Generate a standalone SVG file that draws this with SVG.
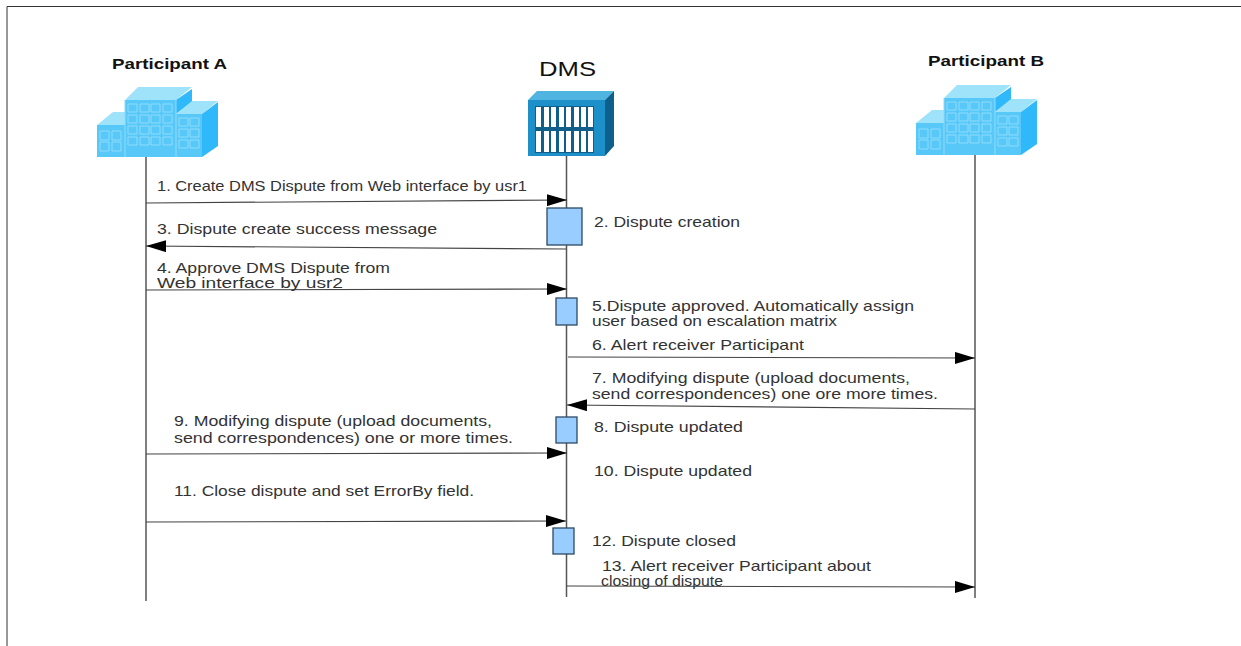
<svg xmlns="http://www.w3.org/2000/svg" width="1241" height="646" viewBox="0 0 1241 646">
<style>
text{font-family:"Liberation Sans",Arial,sans-serif;font-size:14.5px;fill:#333}
.h{font-weight:bold;font-size:15.5px;fill:#111}
.life{stroke:#555;stroke-width:1.5;fill:none}
.msg{stroke:#444;stroke-width:1.2;fill:none;marker-end:url(#ah)}
.act{fill:#99ccff;stroke:#2c4a66;stroke-width:1.3}
.win{fill:none;stroke:#8fdcfb;stroke-width:1}
</style>
<defs>
<marker id="ah" viewBox="0 0 20 12" refX="20" refY="6" markerWidth="20" markerHeight="12" markerUnits="userSpaceOnUse" orient="auto"><path d="M0 0L20 6L0 12Z" fill="#000"/></marker>
<g id="bld">
<path d="M97 125L113 112H125V125Z" fill="#9fe3fb"/>
<rect x="97" y="125" width="28" height="32" fill="#58c8f8"/>
<path d="M125 100L138 87H192L176 100Z" fill="#9fe3fb"/>
<path d="M176 100L192 89V102L176 114Z" fill="#2fb8fa"/>
<rect x="125" y="100" width="51" height="57" fill="#58c8f8"/>
<path d="M176 114L192 101H218L202 114Z" fill="#9fe3fb"/>
<rect x="176" y="114" width="26" height="43" fill="#58c8f8"/>
<path d="M202 114L218 102V146L202 157Z" fill="#2fb8fa"/>
<path d="M125 100V157M176 100V157" stroke="#8fdcfb" stroke-width="1"/>
<path class="win" d="M100 131h9v9h-9zM112 131h9v9h-9zM100 142h9v9h-9zM112 142h9v9h-9zM128 104h9v8h-9zM140 104h9v8h-9zM151 104h9v8h-9zM163 104h9v8h-9zM128 115h9v8h-9zM140 115h9v8h-9zM151 115h9v8h-9zM163 115h9v8h-9zM128 126h9v8h-9zM140 126h9v8h-9zM151 126h9v8h-9zM163 126h9v8h-9zM128 137h9v8h-9zM140 137h9v8h-9zM151 137h9v8h-9zM163 137h9v8h-9zM179 118h9v8h-9zM190 118h9v8h-9zM179 129h9v8h-9zM190 129h9v8h-9zM179 140h9v8h-9zM190 140h9v8h-9z"/>
</g>
</defs>
<rect width="1241" height="646" fill="#fff"/>
<path d="M7 646V6.500H1241" fill="none" stroke="#333" stroke-width="1"/>
<g id="connectors">
<path class="life" d="M146 157V601"/>
<path class="life" d="M566.500 155V597"/>
<path class="life" d="M975 155V598"/>
<path class="msg" d="M146 203L567 200"/>
<path class="msg" d="M566 249L146 246"/>
<path class="msg" d="M146 290L567 289"/>
<path class="msg" d="M568 357L975 358"/>
<path class="msg" d="M975 409L567 405"/>
<path class="msg" d="M146 454L567 453"/>
<path class="msg" d="M146 522L566 521"/>
<path class="msg" d="M566 586L975 587"/>
</g>
<g id="participant-a"><text class="h" x="112" y="69" textLength="115" lengthAdjust="spacingAndGlyphs">Participant A</text><use href="#bld"/></g>
<g id="dms"><text x="539" y="76" style="font-size:21px;fill:#111" textLength="57" lengthAdjust="spacingAndGlyphs">DMS</text>
<path d="M528 100L537 91H614L605 100Z" fill="#4fb4e0"/>
<path d="M605 100L614 91V146L605 156Z" fill="#0d5f8c"/>
<rect x="528" y="100" width="77" height="56" fill="#1d8fc9"/>
<rect x="535" y="106" width="59" height="47" fill="#0f5f8a"/>
<path d="M536 107h5v20h-5zM544 107h5v20h-5zM551 107h5v20h-5zM559 107h5v20h-5zM566 107h5v20h-5zM574 107h5v20h-5zM581 107h5v20h-5zM588 107h5v20h-5zM536 131h5v21h-5zM544 131h5v21h-5zM551 131h5v21h-5zM559 131h5v21h-5zM566 131h5v21h-5zM574 131h5v21h-5zM581 131h5v21h-5zM588 131h5v21h-5z" fill="#fff"/></g>
<g id="participant-b"><text class="h" x="928" y="66" textLength="116" lengthAdjust="spacingAndGlyphs">Participant B</text><use href="#bld" transform="translate(819 -2)"/></g>
<g id="activation-2"><rect class="act" x="547" y="208" width="35" height="37"/></g>
<g id="activation-5"><rect class="act" x="556" y="298" width="21" height="27"/></g>
<g id="activation-8"><rect class="act" x="556" y="417" width="21" height="26"/></g>
<g id="activation-12"><rect class="act" x="553" y="528" width="21" height="26"/></g>
<g id="labels" transform="translate(0 1)">
<text x="157" y="190" textLength="370" lengthAdjust="spacingAndGlyphs">1. Create DMS Dispute from Web interface by usr1</text>
<text x="594" y="226" textLength="146" lengthAdjust="spacingAndGlyphs">2. Dispute creation</text>
<text x="157" y="233" textLength="280" lengthAdjust="spacingAndGlyphs">3. Dispute create success message</text>
<text x="157" y="272" textLength="233" lengthAdjust="spacingAndGlyphs">4. Approve DMS Dispute from</text>
<text x="157" y="287" textLength="186" lengthAdjust="spacingAndGlyphs">Web interface by usr2</text>
<text x="592" y="310" textLength="322" lengthAdjust="spacingAndGlyphs">5.Dispute approved. Automatically assign</text>
<text x="592" y="325" textLength="245" lengthAdjust="spacingAndGlyphs">user based on escalation matrix</text>
<text x="592" y="349" textLength="212" lengthAdjust="spacingAndGlyphs">6. Alert receiver Participant</text>
<text x="592" y="382" textLength="318" lengthAdjust="spacingAndGlyphs">7. Modifying dispute (upload documents,</text>
<text x="592" y="398" textLength="346" lengthAdjust="spacingAndGlyphs">send correspondences) one ore more times.</text>
<text x="174" y="425" textLength="318" lengthAdjust="spacingAndGlyphs">9. Modifying dispute (upload documents,</text>
<text x="174" y="442" textLength="339" lengthAdjust="spacingAndGlyphs">send correspondences) one or more times.</text>
<text x="594" y="431" textLength="149" lengthAdjust="spacingAndGlyphs">8. Dispute updated</text>
<text x="594" y="475" textLength="158" lengthAdjust="spacingAndGlyphs">10. Dispute updated</text>
<text x="174" y="495" textLength="300" lengthAdjust="spacingAndGlyphs">11. Close dispute and set ErrorBy field.</text>
<text x="592" y="545" textLength="144" lengthAdjust="spacingAndGlyphs">12. Dispute closed</text>
<text x="602" y="570" textLength="269" lengthAdjust="spacingAndGlyphs">13. Alert receiver Participant about</text>
<text x="601" y="585" textLength="122" lengthAdjust="spacingAndGlyphs">closing of dispute</text>
</g>
</svg>
